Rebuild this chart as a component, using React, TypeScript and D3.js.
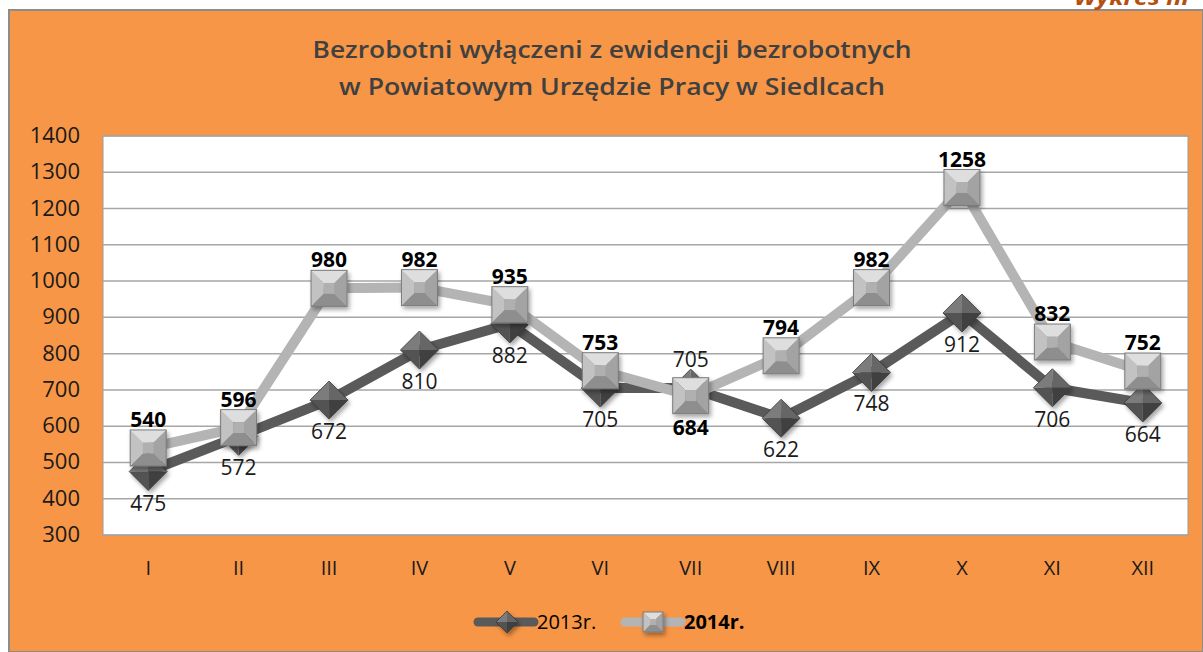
import React, { useEffect, useRef } from 'react';
import * as d3 from 'd3';

const months = ['I', 'II', 'III', 'IV', 'V', 'VI', 'VII', 'VIII', 'IX', 'X', 'XI', 'XII'];
const values2013 = [475, 572, 672, 810, 882, 705, 705, 622, 748, 912, 706, 664];
const values2014 = [540, 596, 980, 982, 935, 753, 684, 794, 982, 1258, 832, 752];
const yTicks = [300, 400, 500, 600, 700, 800, 900, 1000, 1100, 1200, 1300, 1400];
const titleLines = [
  'Bezrobotni wyłączeni z ewidencji bezrobotnych',
  'w Powiatowym Urzędzie Pracy w Siedlcach',
];
// label goes above (true) or below (false) the marker
const above2013 = months.map((m) => m === 'VII');
const above2014 = months.map((m) => m !== 'VII');

const FONT = '"Open Sans", "Noto Sans", sans-serif';

const App: React.FC = () => {
  const svgRef = useRef<SVGSVGElement | null>(null);

  useEffect(() => {
    if (!svgRef.current) return;
    const width = 1203;
    const height = 652;
    const plot = { left: 103, top: 136, right: 1188, bottom: 535 };

    const svg = d3.select(svgRef.current).attr('width', width).attr('height', height);
    svg.selectAll('*').remove();

    const defs = svg.append('defs');
    const shadow = defs.append('filter').attr('id', 'shadow').attr('x', '-30%').attr('y', '-30%').attr('width', '170%').attr('height', '170%');
    shadow.append('feDropShadow').attr('dx', 2).attr('dy', 3).attr('stdDeviation', 2).attr('flood-color', '#000').attr('flood-opacity', 0.35);

    // background frame
    svg.append('rect').attr('width', width).attr('height', height).attr('fill', '#ffffff');
    svg.append('rect').attr('x', 9).attr('y', 10).attr('width', width - 9).attr('height', height - 10)
      .attr('fill', '#f79646').attr('stroke', '#8c8c8c').attr('stroke-width', 2);

    // page caption, cut by the top edge as in the source
    svg.append('text')
      .attr('x', 1074).attr('y', 5)
      .attr('textLength', 118).attr('lengthAdjust', 'spacingAndGlyphs')
      .attr('font-family', FONT).attr('font-size', 22).attr('font-weight', 'bold').attr('font-style', 'italic')
      .attr('fill', '#b4500f')
      .text('Wykres nr');

    // title
    const titleWidths = [599, 546];
    svg.selectAll('.title')
      .data(titleLines)
      .enter()
      .append('text')
      .attr('class', 'title')
      .attr('x', (_, i) => 612 - titleWidths[i] / 2)
      .attr('y', (_, i) => 58 + i * 37)
      .attr('textLength', (_, i) => titleWidths[i])
      .attr('lengthAdjust', 'spacingAndGlyphs')
      .attr('font-family', FONT).attr('font-size', 23.5).attr('font-weight', 600)
      .attr('fill', '#404040')
      .text((d) => d);

    const x = d3.scaleBand().domain(months).range([plot.left, plot.right]);
    const y = d3.scaleLinear().domain([300, 1400]).range([plot.bottom, plot.top]);
    const cx = (m: string) => (x(m) as number) + x.bandwidth() / 2;

    svg.append('rect')
      .attr('x', plot.left).attr('y', plot.top)
      .attr('width', plot.right - plot.left).attr('height', plot.bottom - plot.top)
      .attr('fill', '#ffffff').attr('stroke', '#9a9a9a').attr('stroke-width', 1);

    svg.selectAll('.grid')
      .data(yTicks)
      .enter()
      .append('line')
      .attr('class', 'grid')
      .attr('x1', plot.left).attr('x2', plot.right)
      .attr('y1', (d) => y(d)).attr('y2', (d) => y(d))
      .attr('stroke', '#a6a6a6').attr('stroke-width', 1.5);

    svg.selectAll('.ylab')
      .data(yTicks)
      .enter()
      .append('text')
      .attr('class', 'ylab')
      .attr('x', 80)
      .attr('y', (d) => y(d) + 7)
      .attr('text-anchor', 'end')
      .attr('font-family', FONT).attr('font-size', 22)
      .attr('fill', '#1a1a1a')
      .text((d) => d);

    svg.selectAll('.xlab')
      .data(months)
      .enter()
      .append('text')
      .attr('class', 'xlab')
      .attr('x', (d) => cx(d))
      .attr('y', 575)
      .attr('text-anchor', 'middle')
      .attr('font-family', FONT).attr('font-size', 20)
      .attr('fill', '#1a1a1a')
      .text((d) => d);

    const drawDiamond = (g: d3.Selection<SVGGElement, unknown, null, undefined>, px: number, py: number, r: number) => {
      const m = g.append('g').attr('transform', `translate(${px},${py})`).attr('filter', 'url(#shadow)');
      const facets: [string, string][] = [
        [`M0,0 L${-r},0 L0,${-r} Z`, '#7c7c7c'],
        [`M0,0 L0,${-r} L${r},0 Z`, '#666666'],
        [`M0,0 L${r},0 L0,${r} Z`, '#404040'],
        [`M0,0 L0,${r} L${-r},0 Z`, '#535353'],
      ];
      facets.forEach(([d, c]) => m.append('path').attr('d', d).attr('fill', c));
      m.append('path').attr('d', `M${-r},0 L0,${-r} L${r},0 L0,${r} Z`).attr('fill', 'none').attr('stroke', '#3a3a3a').attr('stroke-width', 0.8);
    };

    const drawSquare = (g: d3.Selection<SVGGElement, unknown, null, undefined>, px: number, py: number, h: number) => {
      const m = g.append('g').attr('transform', `translate(${px},${py})`).attr('filter', 'url(#shadow)');
      const i = h * 0.3;
      const facets: [string, string][] = [
        [`M${-h},${-h} L${h},${-h} L${i},${-i} L${-i},${-i} Z`, '#dedede'],
        [`M${h},${-h} L${h},${h} L${i},${i} L${i},${-i} Z`, '#a3a3a3'],
        [`M${h},${h} L${-h},${h} L${-i},${i} L${i},${i} Z`, '#8e8e8e'],
        [`M${-h},${h} L${-h},${-h} L${-i},${-i} L${-i},${i} Z`, '#c2c2c2'],
        [`M${-i},${-i} L${i},${-i} L${i},${i} L${-i},${i} Z`, '#b0b0b0'],
      ];
      facets.forEach(([d, c]) => m.append('path').attr('d', d).attr('fill', c));
      m.append('rect').attr('x', -h).attr('y', -h).attr('width', 2 * h).attr('height', 2 * h)
        .attr('fill', 'none').attr('stroke', '#7a7a7a').attr('stroke-width', 1);
    };

    const line = d3.line<number>().x((_, i) => cx(months[i])).y((d) => y(d));

    const series = [
      { values: values2013, color: '#5a5a5a', marker: 'diamond', bold: false, above: above2013 },
      { values: values2014, color: '#b4b4b4', marker: 'square', bold: true, above: above2014 },
    ];

    const marks = svg.append('g');
    series.forEach((s) => {
      marks.append('path')
        .datum(s.values)
        .attr('d', line)
        .attr('fill', 'none')
        .attr('stroke', s.color)
        .attr('stroke-width', 10)
        .attr('stroke-linejoin', 'round');
      s.values.forEach((v, i) => {
        if (s.marker === 'diamond') drawDiamond(marks, cx(months[i]), y(v), 19);
        else drawSquare(marks, cx(months[i]), y(v), 18);
      });
    });

    series.forEach((s) => {
      svg.append('g')
        .selectAll('text')
        .data(s.values)
        .enter()
        .append('text')
        .attr('x', (_, i) => cx(months[i]))
        .attr('y', (d, i) => (s.above[i] ? y(d) - 21 : y(d) + 39))
        .attr('text-anchor', 'middle')
        .attr('font-family', FONT).attr('font-size', 21)
        .attr('font-weight', s.bold ? 'bold' : 'normal')
        .attr('fill', s.bold ? '#000000' : '#1a1a1a')
        .text((d) => d);
    });

    // legend
    const legend = svg.append('g');
    const items = [
      { label: '2013r.', x0: 478, color: '#5a5a5a', marker: 'diamond', bold: false },
      { label: '2014r.', x0: 625, color: '#b4b4b4', marker: 'square', bold: true },
    ];
    items.forEach((it) => {
      legend.append('line')
        .attr('x1', it.x0).attr('x2', it.x0 + 56)
        .attr('y1', 622).attr('y2', 622)
        .attr('stroke', it.color).attr('stroke-width', 9).attr('stroke-linecap', 'round');
      if (it.marker === 'diamond') drawDiamond(legend, it.x0 + 29, 622, 11);
      else drawSquare(legend, it.x0 + 28, 622, 10);
      legend.append('text')
        .attr('x', it.x0 + 59).attr('y', 629)
        .attr('font-family', FONT).attr('font-size', 20)
        .attr('font-weight', it.bold ? 'bold' : 'normal')
        .attr('fill', '#000000')
        .text(it.label);
    });
  }, []);

  return (
    <div style={{ position: 'fixed', left: 0, top: 0 }}>
      <svg ref={svgRef} style={{ display: 'block' }}></svg>
    </div>
  );
};

export default App;
